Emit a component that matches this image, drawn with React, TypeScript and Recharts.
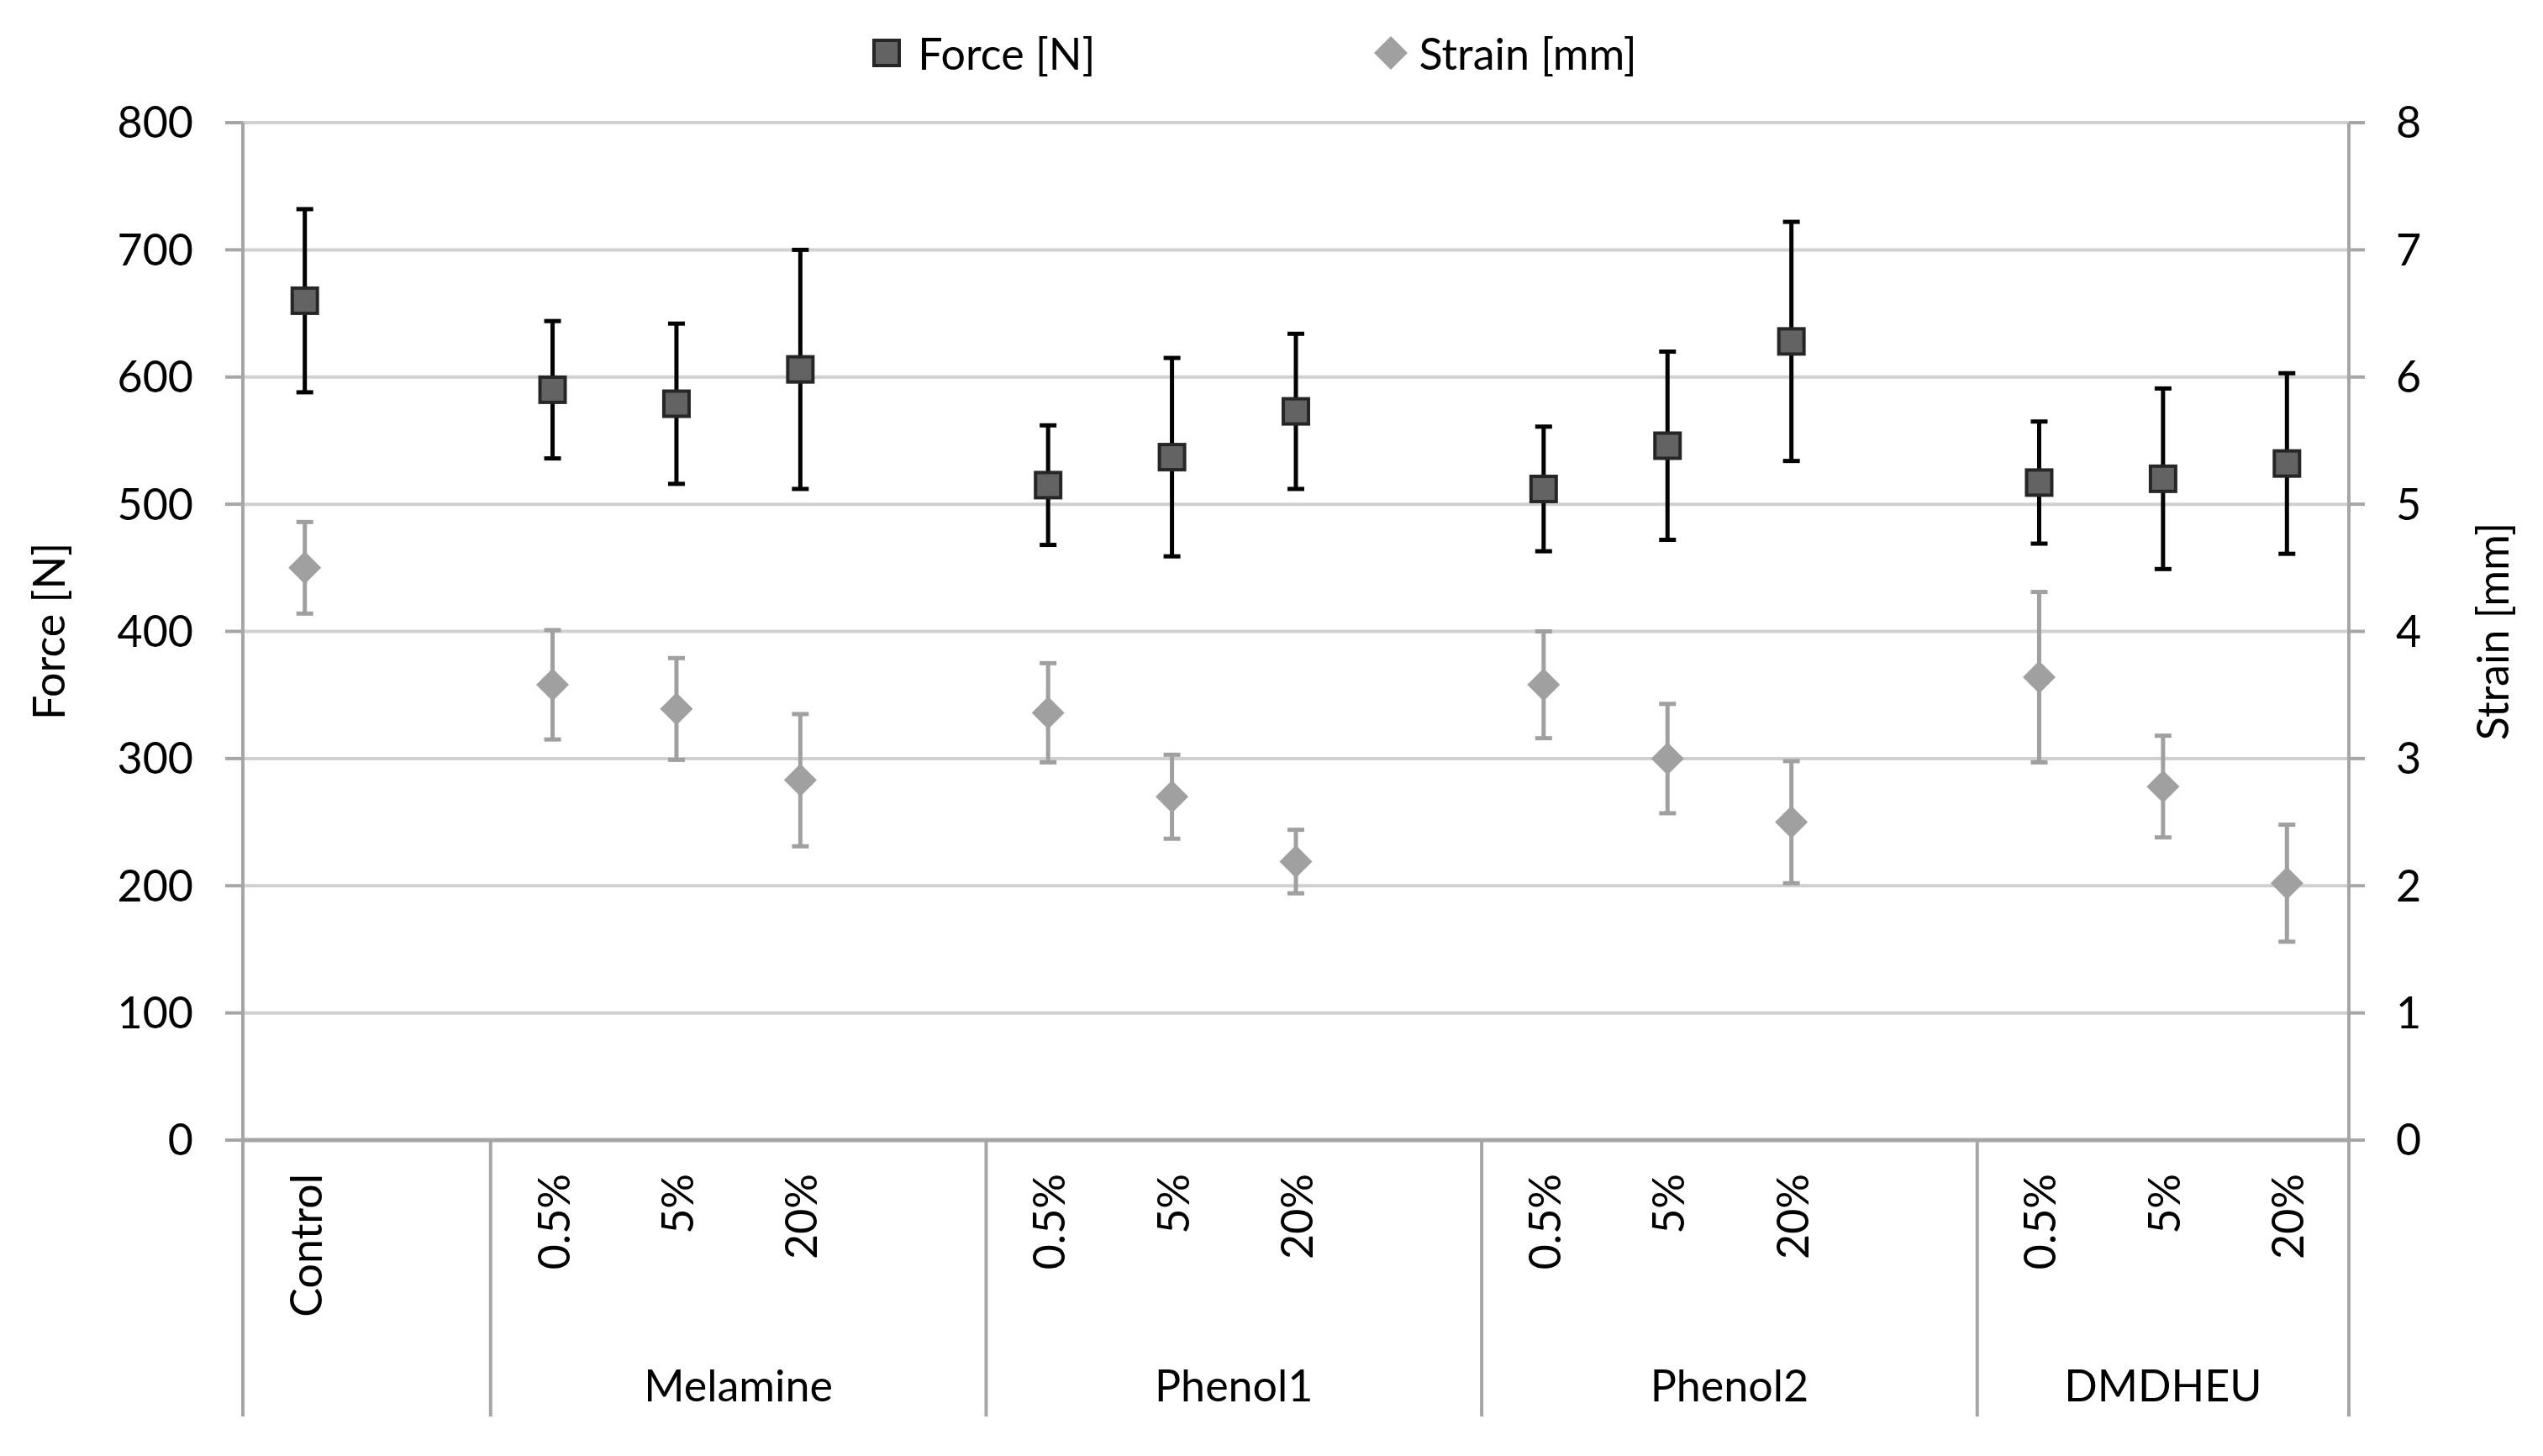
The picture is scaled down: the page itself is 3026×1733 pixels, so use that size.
import { CartesianGrid, ComposedChart, ErrorBar, Legend, Line, XAxis, YAxis } from "recharts";

// 17 slots on the category axis; the empty ones are the gaps between groups
const categoryIds = [
  "control", "gap1",
  "mel05", "mel5", "mel20", "gap2",
  "ph105", "ph15", "ph120", "gap3",
  "ph205", "ph25", "ph220", "gap4",
  "dm05", "dm5", "dm20",
];
const tickLabels = [
  "Control", "",
  "0.5%", "5%", "20%", "",
  "0.5%", "5%", "20%", "",
  "0.5%", "5%", "20%", "",
  "0.5%", "5%", "20%",
];
const groups = [
  { name: "", start: 0, size: 2 },
  { name: "Melamine", start: 2, size: 4 },
  { name: "Phenol1", start: 6, size: 4 },
  { name: "Phenol2", start: 10, size: 4 },
  { name: "DMDHEU", start: 14, size: 3 },
];

const force = [660, null, 590, 579, 606, null, 515, 537, 573, null, 512, 546, 628, null, 517, 520, 532];
const forceErr = [72, null, 54, 63, 94, null, 47, 78, 61, null, 49, 74, 94, null, 48, 71, 71];
const strain = [4.5, null, 3.58, 3.39, 2.83, null, 3.36, 2.7, 2.19, null, 3.58, 3.0, 2.5, null, 3.64, 2.78, 2.02];
const strainErr = [0.36, null, 0.43, 0.4, 0.52, null, 0.39, 0.33, 0.25, null, 0.42, 0.43, 0.48, null, 0.67, 0.4, 0.46];

const forceTicks = [0, 100, 200, 300, 400, 500, 600, 700, 800];
const strainTicks = [0, 1, 2, 3, 4, 5, 6, 7, 8];

const data = categoryIds.map((id, i) => ({
  id,
  force: force[i],
  forceErr: forceErr[i],
  strain: strain[i],
  strainErr: strainErr[i],
}));

const AXIS = "#a6a6a6";
const FONT = 52;

function SquareDot(props: any) {
  const { cx, cy, index } = props;
  if (cx == null || cy == null || Number.isNaN(cy)) return <g key={index} />;
  return (
    <rect key={index} x={cx - 15} y={cy - 15} width={30} height={30} fill="#636363" stroke="#262626" strokeWidth={4} />
  );
}

function DiamondDot(props: any) {
  const { cx, cy, index } = props;
  if (cx == null || cy == null || Number.isNaN(cy)) return <g key={index} />;
  const r = 19.5;
  return (
    <polygon key={index} points={`${cx},${cy - r} ${cx + r},${cy} ${cx},${cy + r} ${cx - r},${cy}`} fill="#a0a0a0" />
  );
}

function CategoryTick(props: any) {
  const { x, y, index, width, visibleTicksCount } = props;
  const band = width && visibleTicksCount ? width / visibleTicksCount : 147.4;
  const group = groups.find((g) => g.start === index);
  const isLast = index === categoryIds.length - 1;
  const ly = y + 40;
  return (
    <g>
      <text
        x={x}
        y={ly}
        transform={`rotate(-90, ${x}, ${ly})`}
        textAnchor="end"
        dominantBaseline="central"
        fontSize={FONT}
        fill="#000"
      >
        {tickLabels[index]}
      </text>
      {group && <line x1={x - band / 2} x2={x - band / 2} y1={y} y2={y + 329} stroke={AXIS} strokeWidth={4} />}
      {group && group.name && (
        <text x={x - band / 2 + (group.size * band) / 2} y={y + 311} textAnchor="middle" fontSize={FONT} fill="#000">
          {group.name}
        </text>
      )}
      {isLast && <line x1={x + band / 2} x2={x + band / 2} y1={y} y2={y + 329} stroke={AXIS} strokeWidth={4} />}
    </g>
  );
}

function LegendContent() {
  return (
    <div style={{ display: "flex", justifyContent: "center", alignItems: "center", fontSize: FONT, paddingRight: 40 }}>
      <svg width={34} height={34} style={{ marginRight: 20 }}>
        <rect x={2} y={2} width={30} height={30} fill="#636363" stroke="#262626" strokeWidth={4} />
      </svg>
      <span>Force [N]</span>
      <svg width={40} height={40} style={{ marginLeft: 332, marginRight: 13 }}>
        <polygon points="20,0 40,20 20,40 0,20" fill="#a0a0a0" />
      </svg>
      <span>Strain [mm]</span>
    </div>
  );
}

function AxisTitle({ viewBox, text, dx }: any) {
  const x = viewBox.x + dx;
  const y = viewBox.y + viewBox.height / 2;
  return (
    <text x={x} y={y} transform={`rotate(-90, ${x}, ${y})`} textAnchor="middle" dominantBaseline="central" fontSize={FONT} fill="#000">
      {text}
    </text>
  );
}

export default function App() {
  return (
    <div style={{ fontFamily: "Lato, sans-serif", background: "#fff" }}>
      <ComposedChart width={3010} height={1717} data={data} margin={{ top: 138, right: 0, bottom: 28, left: 0 }}>
        <CartesianGrid yAxisId="left" vertical={false} stroke="#d0d0d0" strokeWidth={4} />
        <XAxis
          dataKey="id"
          scale="band"
          interval={0}
          height={340}
          tickLine={false}
          tickSize={0}
          tickMargin={0}
          axisLine={{ stroke: AXIS, strokeWidth: 5 }}
          tick={<CategoryTick />}
        />
        <YAxis
          yAxisId="left"
          domain={[0, 800]}
          ticks={forceTicks}
          width={281}
          tickSize={21}
          tickMargin={38}
          tick={{ fill: "#000", fontSize: FONT }}
          tickLine={{ stroke: AXIS, strokeWidth: 4 }}
          axisLine={{ stroke: AXIS, strokeWidth: 4 }}
          label={(p: any) => <AxisTitle {...p} text="Force [N]" dx={49} />}
        />
        <YAxis
          yAxisId="right"
          orientation="right"
          domain={[0, 8]}
          ticks={strainTicks}
          width={223}
          tickSize={19}
          tickMargin={37}
          tick={{ fill: "#000", fontSize: FONT }}
          tickLine={{ stroke: AXIS, strokeWidth: 4 }}
          axisLine={{ stroke: AXIS, strokeWidth: 4 }}
          label={(p: any) => <AxisTitle {...p} text="Strain [mm]" dx={170} />}
        />
        <Legend
          layout="horizontal"
          verticalAlign="middle"
          align="center"
          content={<LegendContent />}
          wrapperStyle={{ top: 24, left: 0, width: 3010 }}
        />
        <Line
          yAxisId="right"
          dataKey="strain"
          stroke="none"
          dot={(p: any) => <DiamondDot {...p} />}
          activeDot={false}
          isAnimationActive={false}
        >
          <ErrorBar dataKey="strainErr" direction="y" width={10} stroke="#a0a0a0" strokeWidth={5} />
        </Line>
        <Line
          yAxisId="left"
          dataKey="force"
          stroke="none"
          dot={(p: any) => <SquareDot {...p} />}
          activeDot={false}
          isAnimationActive={false}
        >
          <ErrorBar dataKey="forceErr" direction="y" width={10} stroke="#000" strokeWidth={5} />
        </Line>
      </ComposedChart>
    </div>
  );
}
